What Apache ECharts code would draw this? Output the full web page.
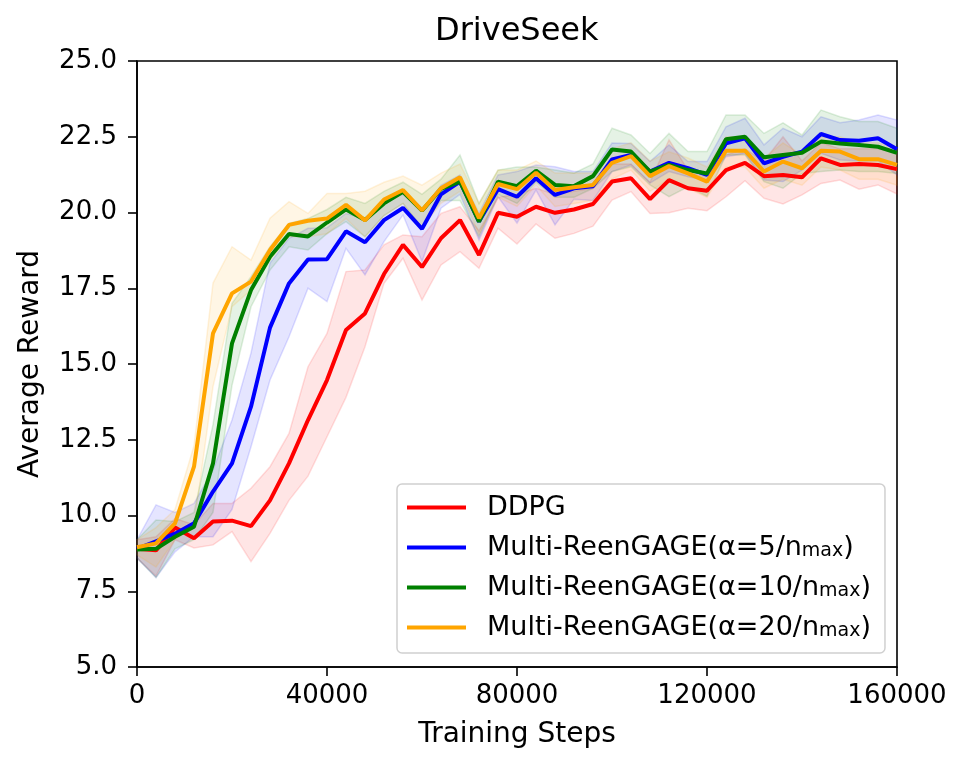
<!DOCTYPE html>
<html>
<head>
<meta charset="utf-8">
<script src="https://cdn.jsdelivr.net/npm/echarts@6/dist/echarts.min.js"></script>
<style>
html,body{margin:0;padding:0;background:#fff;}
#chart{width:970px;height:769px;}
</style>
</head>
<body>
<div id="chart"></div>
<script>
const steps = [0,4000,8000,12000,16000,20000,24000,28000,32000,36000,40000,44000,48000,52000,56000,60000,64000,68000,72000,76000,80000,84000,88000,92000,96000,100000,104000,108000,112000,116000,120000,124000,128000,132000,136000,140000,144000,148000,152000,156000,160000];
const xTicks = [0,40000,80000,120000,160000];
const yTicks = [5.0,7.5,10.0,12.5,15.0,17.5,20.0,22.5,25.0];

const ddpg = [8.9,8.85,9.6,9.25,9.8,9.83,9.65,10.5,11.72,13.15,14.47,16.12,16.67,17.97,18.93,18.2,19.15,19.75,18.6,19.99,19.86,20.19,19.99,20.1,20.28,21.02,21.13,20.44,21.07,20.8,20.72,21.4,21.64,21.2,21.24,21.16,21.79,21.57,21.6,21.57,21.43];
const ddpgHi = [9.2,9.3,9.9,9.7,10.4,10.4,10.9,11.61,12.71,14.91,16.01,18.05,18.1,18.93,19.26,19.2,19.97,20.19,19.4,20.5,20.6,20.8,20.6,20.7,20.8,21.6,21.6,21.0,22.4,21.4,21.3,21.9,22.1,21.7,22.5,21.7,22.3,22.1,22.1,22.1,22.0];
const ddpgLo = [8.6,8.0,9.2,8.93,9.03,9.47,8.48,9.41,10.5,11.3,12.6,13.9,15.57,17.66,18.49,17.11,18.27,18.71,18.16,19.48,18.96,19.62,19.15,19.31,19.55,20.41,20.69,19.97,19.99,20.14,20.06,20.52,21.05,20.47,20.28,20.58,20.96,21.07,20.77,20.91,20.61];

const a5 = [8.9,9.15,9.4,9.74,10.79,11.72,13.59,16.2,17.66,18.45,18.46,19.38,19.02,19.75,20.15,19.46,20.6,21.02,19.7,20.77,20.52,21.13,20.58,20.8,20.87,21.75,21.9,21.35,21.64,21.46,21.24,22.28,22.45,21.62,21.84,22.01,22.59,22.39,22.37,22.45,22.09];
const a5Hi = [9.2,10.35,10.1,10.4,11.5,13.15,15.36,18.33,19.15,19.48,19.5,19.97,19.8,20.4,20.6,20.05,20.9,21.24,19.97,21.24,21.35,21.57,21.51,21.35,21.35,22.29,22.28,21.68,22.23,21.68,21.68,22.83,23.11,22.23,22.78,22.5,23.16,22.96,23.05,23.22,23.05];
const a5Lo = [8.6,7.95,8.8,9.3,9.3,10.2,12.27,14.47,15.9,17.5,17.06,18.82,17.94,19.04,19.92,18.38,20.14,20.6,19.09,20.52,19.65,20.74,19.59,20.44,20.4,21.35,21.57,20.97,21.35,21.18,21.07,21.84,21.95,21.07,21.02,21.4,21.95,21.73,21.7,21.7,21.24];

const a10 = [8.88,8.9,9.3,9.63,11.72,15.68,17.44,18.54,19.29,19.21,19.67,20.1,19.75,20.3,20.68,20.06,20.78,21.02,19.7,21.02,20.87,21.38,20.91,20.87,21.2,22.08,22.01,21.35,21.57,21.4,21.29,22.42,22.5,21.82,21.9,21.97,22.34,22.28,22.23,22.17,21.97];
const a10Hi = [9.2,9.85,9.8,10.1,13.0,17.0,17.88,18.87,19.64,19.8,20.1,20.5,20.3,20.7,21.0,20.6,21.1,21.9,20.3,21.4,21.5,21.5,21.4,21.3,21.6,22.78,22.56,21.95,22.61,22.01,22.01,23.22,23.22,22.61,22.96,22.56,23.38,23.16,23.0,23.0,22.78];
const a10Lo = [8.6,7.95,8.9,9.2,10.1,14.3,16.89,18.1,18.87,18.76,19.3,19.7,19.2,19.9,20.3,19.5,20.4,20.4,19.2,20.6,20.3,21.0,20.5,20.5,20.8,21.35,21.51,20.91,20.52,20.85,20.54,21.9,21.9,21.02,20.8,21.29,21.35,21.4,21.35,21.35,21.29];

const a20 = [8.95,9.08,9.74,11.61,16.01,17.33,17.72,18.76,19.59,19.73,19.8,20.25,19.74,20.43,20.74,20.07,20.8,21.16,19.81,20.94,20.77,21.31,20.74,20.83,20.91,21.64,21.86,21.2,21.53,21.29,21.02,22.04,22.04,21.35,21.68,21.46,22.04,22.01,21.76,21.76,21.57];
const a20Hi = [9.2,9.6,10.2,12.3,17.67,18.87,18.43,19.81,20.36,19.97,20.63,20.63,20.7,21.0,21.2,20.9,21.3,21.6,20.3,21.4,21.4,21.7,21.3,21.3,21.3,22.1,22.3,21.7,22.0,21.8,21.5,22.5,22.5,21.8,22.3,21.9,22.5,22.5,22.3,22.3,22.1];
const a20Lo = [8.7,8.3,9.2,9.63,14.25,16.89,17.44,18.43,19.2,19.2,19.3,19.8,19.2,19.9,20.3,19.5,20.3,20.7,19.3,20.5,20.2,20.9,20.2,20.3,20.4,21.1,21.4,20.7,21.1,20.8,20.5,21.5,21.5,20.8,21.1,20.9,21.5,21.4,21.1,21.1,20.9];

const seriesNames = ['DDPG','Multi-ReenGAGE(α=5/nmax)','Multi-ReenGAGE(α=10/nmax)','Multi-ReenGAGE(α=20/nmax)'];
const legendRich = {
  'DDPG': '{a|DDPG}',
  'Multi-ReenGAGE(α=5/nmax)': '{a|Multi-ReenGAGE(α=5/n}{s|max}{a|)}',
  'Multi-ReenGAGE(α=10/nmax)': '{a|Multi-ReenGAGE(α=10/n}{s|max}{a|)}',
  'Multi-ReenGAGE(α=20/nmax)': '{a|Multi-ReenGAGE(α=20/n}{s|max}{a|)}'
};
const colors = ['#ff0000','#0000ff','#008000','#ffa500'];
const rgbs = ['255,0,0','0,0,255','0,128,0','255,165,0'];
const means = [ddpg,a5,a10,a20];
const highs = [ddpgHi,a5Hi,a10Hi,a20Hi];
const lows = [ddpgLo,a5Lo,a10Lo,a20Lo];

const FONT = 'DejaVu Sans';

function bandSeries(k) {
  return {
    type: 'custom',
    name: seriesNames[k] + ' band',
    silent: true,
    z: 1,
    animation: false,
    data: [[0, 0]],
    renderItem: function (params, api) {
      const pts = [];
      for (let i = 0; i < steps.length; i++) pts.push(api.coord([steps[i], highs[k][i]]));
      for (let i = steps.length - 1; i >= 0; i--) pts.push(api.coord([steps[i], lows[k][i]]));
      return {
        type: 'polygon',
        shape: { points: pts },
        style: { fill: 'rgba(' + rgbs[k] + ',0.1)', stroke: 'rgba(' + rgbs[k] + ',0.13)', lineWidth: 1.5 }
      };
    }
  };
}

function lineSeries(k) {
  return {
    type: 'line',
    name: seriesNames[k],
    data: steps.map((s, i) => [s, means[k][i]]),
    symbol: 'none',
    z: 3 + k,
    animation: false,
    color: colors[k],
    itemStyle: { color: colors[k] },
    lineStyle: { color: colors[k], width: 4 }
  };
}

const series = [];
for (let k = 0; k < 4; k++) series.push(bandSeries(k));
for (let k = 0; k < 4; k++) series.push(lineSeries(k));

const chart = echarts.init(document.getElementById('chart'), null, { renderer: 'canvas' });
chart.setOption({
  backgroundColor: '#fff',
  animation: false,
  textStyle: { fontFamily: FONT },
  title: {
    text: 'DriveSeek',
    left: 435,
    top: 16,
    padding: 0,
    textStyle: { fontFamily: FONT, fontSize: 32, fontWeight: 'normal', color: '#000', lineHeight: 32 }
  },
  grid: {
    left: 137, right: 73, top: 61, bottom: 102,
    show: true, borderColor: '#000', borderWidth: 1.6, backgroundColor: 'transparent'
  },
  legend: {
    data: seriesNames.map(n => ({ name: n, icon: 'rect' })),
    orient: 'vertical',
    left: 397,
    top: 484,
    padding: [10, 14, 12, 10],
    itemWidth: 59,
    itemHeight: 4,
    itemGap: 13,
    backgroundColor: 'rgba(255,255,255,0.8)',
    borderColor: '#d0d0d0',
    borderWidth: 1.5,
    borderRadius: 5,
    selectedMode: false,
    formatter: function (name) { return legendRich[name]; },
    textStyle: {
      fontFamily: FONT, fontSize: 27, color: '#000', lineHeight: 27,
      padding: [0, 0, 0, 16],
      rich: {
        a: { fontFamily: FONT, fontSize: 27, color: '#000', lineHeight: 27, verticalAlign: 'bottom' },
        s: { fontFamily: FONT, fontSize: 19, color: '#000', lineHeight: 19, verticalAlign: 'bottom' }
      }
    }
  },
  xAxis: {
    type: 'value',
    min: xTicks[0],
    max: xTicks[xTicks.length - 1],
    interval: xTicks[1] - xTicks[0],
    name: 'Training Steps',
    nameLocation: 'middle',
    nameGap: 54,
    nameTextStyle: { fontFamily: FONT, fontSize: 28, color: '#000' },
    axisLine: { show: true, onZero: false, lineStyle: { color: '#000', width: 1.6 } },
    axisTick: { show: true, inside: false, length: 9, lineStyle: { color: '#000', width: 1.6 } },
    axisLabel: { fontFamily: FONT, fontSize: 26, color: '#000', margin: 16, lineHeight: 26, formatter: v => String(v) },
    splitLine: { show: false }
  },
  yAxis: {
    type: 'value',
    min: yTicks[0],
    max: yTicks[yTicks.length - 1],
    interval: yTicks[1] - yTicks[0],
    name: 'Average Reward',
    nameLocation: 'middle',
    nameGap: 92,
    nameRotate: 90,
    nameTextStyle: { fontFamily: FONT, fontSize: 28, color: '#000' },
    axisLine: { show: true, onZero: false, lineStyle: { color: '#000', width: 1.6 } },
    axisTick: { show: true, inside: false, length: 9, lineStyle: { color: '#000', width: 1.6 } },
    axisLabel: { fontFamily: FONT, fontSize: 26, color: '#000', margin: 20, formatter: v => v.toFixed(1) },
    splitLine: { show: false }
  },
  series: series
});
</script>
</body>
</html>
